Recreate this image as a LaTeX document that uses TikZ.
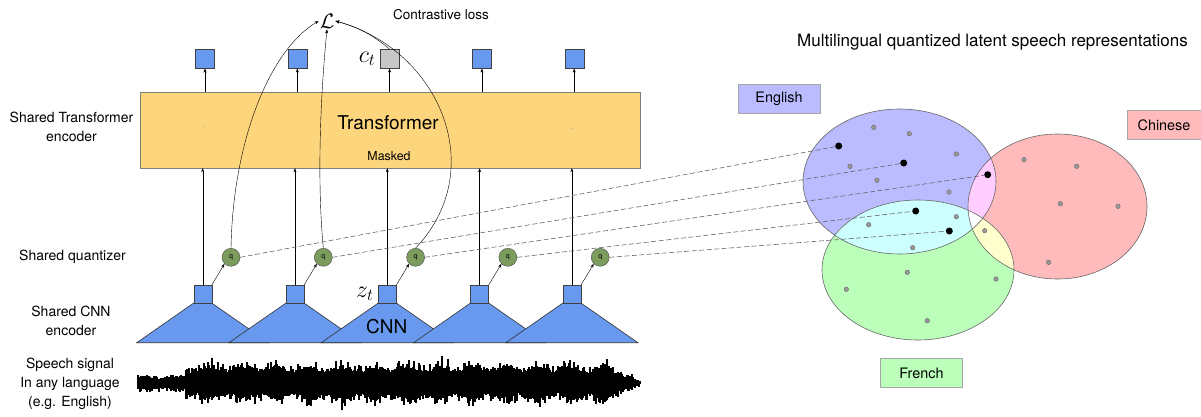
\RequirePackage{fix-cm}
\documentclass[tikz,border=0pt]{standalone}
\usepackage{fontspec}
\setmainfont{TeX Gyre Heros}
\usepackage{amsmath}
\usetikzlibrary{positioning,arrows.meta}

\definecolor{cnnblue}{RGB}{104,153,238}
\definecolor{trorange}{RGB}{253,213,125}
\definecolor{qgreen}{RGB}{124,156,94}
\definecolor{engblue}{RGB}{187,187,255}
\definecolor{chipink}{RGB}{255,187,187}
\definecolor{frgreen}{RGB}{187,255,187}
\definecolor{engchi}{RGB}{255,205,255}
\definecolor{engfre}{RGB}{205,255,255}
\definecolor{frechi}{RGB}{255,255,205}

\begin{document}
\begin{tikzpicture}
  [x=1pt,y=-1pt,>={Stealth[length=4pt,width=3pt]},
   lab/.style={align=center,font=\fontsize{14}{19}\selectfont},
   outsq/.style={rectangle,draw=black!75,fill=cnnblue,minimum size=19pt,inner sep=0pt},
   zsq/.style={rectangle,draw=black!75,fill=cnnblue,minimum size=18pt,inner sep=0pt},
   qnode/.style={circle,draw=black!70,fill=qgreen,minimum size=18pt,inner sep=0pt,font=\fontsize{7}{7}\selectfont},
   langbox/.style={rectangle,draw=black!35,minimum width=82pt,minimum height=29pt,font=\fontsize{14.4}{16}\selectfont},
   gdot/.style={circle,draw=black!60,fill=black!40,minimum size=4.5pt,inner sep=0pt},
   bdot/.style={circle,fill=black,minimum size=7pt,inner sep=0pt},
   link/.style={black!60,dash pattern=on 5pt off 2.5pt,line width=0.6pt}]
  \useasboundingbox (0,0) rectangle (1201,417);

  % left hand labels
  \node[lab] (lbltr) at (71.5,127) {Shared Transformer\\encoder};
  \node[lab] (lblq) at (72.5,257) {Shared quantizer};
  \node[lab] (lblcnn) at (71,320.5) {Shared CNN\\encoder};
  \node[lab] (lblsig) at (70,384) {Speech signal\\In any language\\(e.g. English)};

  % transformer
  \node[rectangle,draw=black!50,fill=trorange,minimum width=500pt,minimum height=76pt] (tr) at (390,130) {};
  \node[font=\fontsize{19}{22}\selectfont] (trtxt) at (388,123) {Transformer};
  \node[font=\fontsize{12.4}{14}\selectfont] (mask) at (389,156) {Masked};
  \node[font=\tiny,text=black!40] (d1) at (205,128) {--};
  \node[font=\tiny,text=black!40] (d2) at (572,130) {--};

  % context outputs
  \foreach \i/\c in {1/cnnblue,2/cnnblue,3/black!22,4/cnnblue,5/cnnblue}
    \node[outsq,fill=\c] (o\i) at ({205+92.3*(\i-1)},58.8) {};
  \node[left=1pt of o3,font=\fontsize{24}{24}\selectfont] (ct) {$c_t$};

  % CNN encoders
  \foreach \i in {1,...,5} {
    \pgfmathsetmacro\xx{202.7+92.3*(\i-1)}
    \filldraw[fill=cnnblue,draw=black!80,line width=0.6pt] (\xx-9,303) -- (\xx+9,303) -- (\xx+66,342.7) -- (\xx-66,342.7) -- cycle;
    \node[zsq] (z\i) at (\xx,294) {};
    \node[qnode] (q\i) at ({231+92.3*(\i-1)},257.3) {q};
    \draw[->] (z\i.north east) -- (q\i.south west);
    \draw[->] (z\i.north) -- (z\i.north |- tr.south);
    \draw[->] (o\i.south |- tr.north) -- (o\i.south);
  }
  \node[font=\fontsize{19}{22}\selectfont] (cnn) at (386.7,326.7) {CNN};
  \node[left=1pt of z3,font=\fontsize{24}{24}\selectfont] (zt) {$z_t$};

  % contrastive loss
  \node[font=\fontsize{21}{21}\selectfont,inner sep=1pt] (loss) at (327,21) {$\mathcal{L}$};
  \node[font=\fontsize{13.5}{15}\selectfont] (losstxt) at (441,14.3) {Contrastive loss};
  \draw[->] (q1.north) .. controls (233,140) and (270,50) .. (loss.west);
  \draw[->] (q2.north) .. controls (316,170) and (322,80) .. (loss.south);
  \draw[->] (q3.north) .. controls (490,170) and (440,50) .. (loss.east);
  \draw[->] (o3.north) to[bend right=12] (loss.east);

  % speech waveform
  \pgfmathsetseed{11}
  \foreach \i in {0,...,502} {
    \pgfmathsetmacro\amp{ifthenelse(\i<48,10,ifthenelse(\i>472,26*(504-\i)/32,26))*(0.85+0.15*sin(\i*11))}
    \pgfmathsetmacro\up{383-\amp*(0.5+0.5*rnd*rnd)-2*rnd}
    \pgfmathsetmacro\dn{383+\amp*(0.5+0.5*rnd*rnd)+2*rnd}
    \pgfmathsetmacro\xx{138+\i}
    \draw[line width=1.1pt] (\xx,\up) -- (\xx,\dn);
  }

  % latent space
  \node[font=\fontsize{17}{20}\selectfont] (title) at (992.5,42) {Multilingual quantized latent speech representations};
  \fill[engblue] (899.5,181.5) ellipse [x radius=96.5pt,y radius=72.5pt];
  \fill[chipink] (1057.5,206.5) ellipse [x radius=89.5pt,y radius=72.5pt];
  \fill[frgreen] (918,270) ellipse [x radius=96pt,y radius=70pt];
  \begin{scope}
    \clip (899.5,181.5) ellipse [x radius=96.5pt,y radius=72.5pt];
    \fill[engchi] (1057.5,206.5) ellipse [x radius=89.5pt,y radius=72.5pt];
    \fill[engfre] (918,270) ellipse [x radius=96pt,y radius=70pt];
  \end{scope}
  \begin{scope}
    \clip (1057.5,206.5) ellipse [x radius=89.5pt,y radius=72.5pt];
    \fill[frechi] (918,270) ellipse [x radius=96pt,y radius=70pt];
    \clip (899.5,181.5) ellipse [x radius=96.5pt,y radius=72.5pt];
    \fill[white] (918,270) ellipse [x radius=96pt,y radius=70pt];
  \end{scope}
  \draw[black!60,line width=0.6pt] (899.5,181.5) ellipse [x radius=96.5pt,y radius=72.5pt];
  \draw[black!60,line width=0.6pt] (1057.5,206.5) ellipse [x radius=89.5pt,y radius=72.5pt];
  \draw[black!60,line width=0.6pt] (918,270) ellipse [x radius=96pt,y radius=70pt];

  \node[langbox,fill=engblue] (eng) at (779,98.5) {English};
  \node[langbox,fill=chipink,minimum width=74pt] (chi) at (1164,125) {Chinese};
  \node[langbox,fill=frgreen] (fre) at (921.5,373) {French};

  \foreach \p [count=\n] in {(873.7,127.3),(909.3,133.7),(956.3,154),(850,166.3),(877,180.3),(949,192),
      (956.3,216.7),(868.7,224.7),(912.7,247.7),(1024,159.7),(1076.7,166.3),(1060.3,203.7),(1118,206.3),
      (1048.7,262.3),(984.7,230.7),(907.3,272.3),(996,279),(846.3,289.3),(927.3,320.7)}
    \node[gdot] (g\n) at \p {};
  \foreach \p [count=\n] in {(838.7,146),(903.7,163),(987.7,174.7),(915.7,211),(949.3,231)}
    \node[bdot] (b\n) at \p {};

  % links from quantizer to codebook entries
  \foreach \i in {1,...,5}
    \draw[link] (q\i.east) -- (b\i);
\end{tikzpicture}
\end{document}
